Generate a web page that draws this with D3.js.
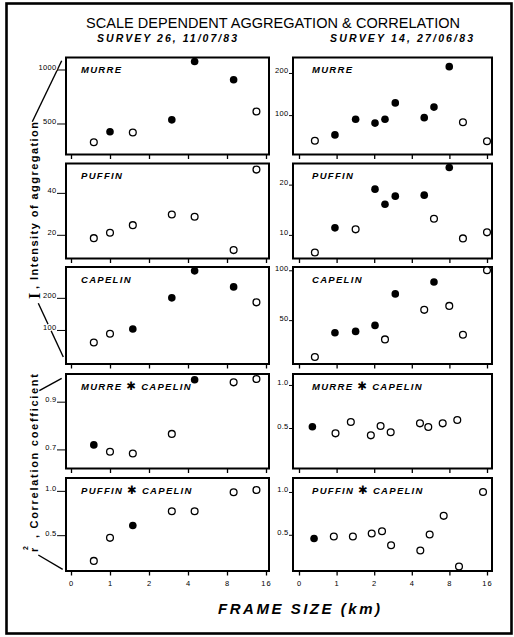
<!DOCTYPE html>
<html>
<head>
<meta charset="utf-8">
<script src="https://cdn.jsdelivr.net/npm/d3@7"></script>
<style>
  html, body { margin: 0; padding: 0; background: #fff; }
  svg { display: block; }
  text { font-family: "Liberation Sans", Arial, "DejaVu Sans", sans-serif; fill: #000; }
</style>
</head>
<body>
<svg id="chart" width="514" height="637"></svg>
<script>
// ---- Frame-size axis (log2 spacing; the first tick sits one doubling below 1 km) ----
const frameTicks = [0.5, 1, 2, 4, 8, 16];
const frameTickLabels = ["0", "1", "2", "4", "8", "16"];

// Frame sizes (km) at which each survey was analysed
const survey26Frames = [0.75, 1, 1.5, 3, 4.5, 9, 13.5];
const survey14Frames = [0.67, 0.97, 1.42, 2.03, 2.44, 2.95, 5.03, 6.02, 7.98, 10.27, 16];
const survey14FramesMurreCapelin = [0.64, 0.98, 1.30, 1.88, 2.25, 2.71, 4.65, 5.42, 7.07, 9.25];
const survey14FramesPuffinCapelin = [0.66, 0.95, 1.35, 1.91, 2.31, 2.73, 4.68, 5.56, 7.20, 9.55, 14.87];

// ---- Survey 26, 11/07/83 ----
const s26Murre = [327, 423, 417, 534, 1074, 905, 611];
const s26MurreSig = [0, 1, 0, 1, 1, 1, 0];
const s26Puffin = [18.4, 21.0, 24.6, 29.7, 28.6, 12.7, 51.1];
const s26PuffinSig = [0, 0, 0, 0, 0, 0, 0];
const s26Capelin = [61, 88, 103, 200, 284, 234, 186];
const s26CapelinSig = [0, 0, 1, 1, 1, 1, 0];
const s26MurreCapelin = [0.719, 0.690, 0.683, 0.765, 0.992, 0.981, 0.995];
const s26MurreCapelinSig = [1, 0, 0, 0, 1, 0, 0];
const s26PuffinCapelin = [0.21, 0.47, 0.61, 0.77, 0.77, 0.985, 1.01];
const s26PuffinCapelinSig = [0, 0, 1, 0, 0, 0, 0];

// ---- Survey 14, 27/06/83 ----
const s14Murre = [39, 53, 90, 81, 90, 129, 94, 119, 215, 83, 38];
const s14MurreSig = [0, 1, 1, 1, 1, 1, 1, 1, 1, 0, 0];
const s14Puffin = [6.5, 11.4, 11.1, 19.1, 16.1, 17.7, 17.9, 13.2, 23.4, 9.3, 10.5];
const s14PuffinSig = [0, 1, 0, 1, 1, 1, 1, 0, 1, 0, 0];
const s14Capelin = [13, 37.3, 38.7, 44.7, 30.7, 76.3, 60.3, 88.3, 64.3, 35.3, 100];
const s14CapelinSig = [0, 1, 1, 1, 0, 1, 0, 1, 0, 0, 0];
const s14MurreCapelin = [0.515, 0.438, 0.569, 0.415, 0.523, 0.450, 0.554, 0.512, 0.554, 0.593];
const s14MurreCapelinSig = [1, 0, 0, 0, 0, 0, 0, 0, 0, 0];
const s14PuffinCapelin = [0.457, 0.48, 0.48, 0.515, 0.541, 0.378, 0.316, 0.503, 0.721, 0.13, 1.0];
const s14PuffinCapelinSig = [1, 0, 0, 0, 0, 0, 0, 0, 0, 0, 0];

// ---- Vertical axis extents and ticks per panel ----
const s26Ranges = [[213, 1111], [8.7, 54], [-6, 296], [0.62, 1.016], [0.096, 1.145]];
const s26Ticks = [[500, 1000], [20, 40], [100, 200], [0.7, 0.9], [0.5, 1.0]];
const s26TickLabels = [["500", "1000"], ["20", "40"], ["100", "200"], ["0.7", "0.9"], ["0.5", "1.0"]];
const s14Ranges = [[6.5, 236.7], [5.3, 24.2], [6, 103.3], [0.03, 1.127], [0.077, 1.163]];
const s14Ticks = [[100, 200], [10, 20], [50, 100], [0.5, 1.0], [0.5, 1.0]];
const s14TickLabels = [["100", "200"], ["10", "20"], ["50", "100"], ["0.5", "1.0"], ["0.5", "1.0"]];

const panelNames = ["MURRE", "PUFFIN", "CAPELIN", "MURRE \u2731 CAPELIN", "PUFFIN \u2731 CAPELIN"];
const surveyTitles = ["SURVEY 26, 11/07/83", "SURVEY 14, 27/06/83"];

// ---- Build the panel table ----
const panels = [];
const s26Values = [s26Murre, s26Puffin, s26Capelin, s26MurreCapelin, s26PuffinCapelin];
const s26Sig = [s26MurreSig, s26PuffinSig, s26CapelinSig, s26MurreCapelinSig, s26PuffinCapelinSig];
const s14Values = [s14Murre, s14Puffin, s14Capelin, s14MurreCapelin, s14PuffinCapelin];
const s14Sig = [s14MurreSig, s14PuffinSig, s14CapelinSig, s14MurreCapelinSig, s14PuffinCapelinSig];
const s14FrameSets = [survey14Frames, survey14Frames, survey14Frames, survey14FramesMurreCapelin, survey14FramesPuffinCapelin];

for (let r = 0; r < 5; r++) {
  panels.push({ col: 0, row: r, name: panelNames[r], frames: survey26Frames,
    values: s26Values[r], sig: s26Sig[r], range: s26Ranges[r], ticks: s26Ticks[r], tickLabels: s26TickLabels[r] });
  panels.push({ col: 1, row: r, name: panelNames[r], frames: s14FrameSets[r],
    values: s14Values[r], sig: s14Sig[r], range: s14Ranges[r], ticks: s14Ticks[r], tickLabels: s14TickLabels[r] });
}

// ---- Layout ----
const colLeft = [66, 293];
const colRight = [269, 492];
const xRanges = [[71, 266], [299, 487]];
const yTickLen = [9, 4];
const rowTop = [57.5, 163.5, 267, 374, 478];
const rowBottom = [154.5, 258.5, 364, 468.5, 571];

const svg = d3.select("#chart");

// outer border of the figure
svg.append("rect")
  .attr("x", 6.5).attr("y", 3.5).attr("width", 505).attr("height", 630)
  .attr("fill", "none").attr("stroke", "#000").attr("stroke-width", 2.6);

// title
svg.append("text")
  .attr("x", 86).attr("y", 27.5)
  .attr("textLength", 374).attr("lengthAdjust", "spacing")
  .style("font-size", "14.5px")
  .text("SCALE DEPENDENT AGGREGATION & CORRELATION");

// survey headers
[[97, 140], [330, 143]].forEach(([x, w], i) => {
  svg.append("text")
    .attr("x", x).attr("y", 41.5)
    .attr("textLength", w).attr("lengthAdjust", "spacing")
    .style("font-size", "10.5px").style("font-weight", "bold").style("font-style", "italic")
    .text(surveyTitles[i]);
});

panels.forEach(p => {
  const x0 = colLeft[p.col], x1 = colRight[p.col];
  const y0 = rowTop[p.row], y1 = rowBottom[p.row];

  const x = d3.scaleLog().base(2).domain([0.5, 16]).range(xRanges[p.col]);
  const y = d3.scaleLinear().domain(p.range).range([y1, y0]);

  const g = svg.append("g");

  // x ticks hanging below each panel
  const xAxis = d3.axisBottom(x)
    .tickValues(frameTicks)
    .tickSize(4.5)
    .tickFormat((d, i) => p.row === 4 ? frameTickLabels[i] : "");
  const gx = g.append("g").attr("transform", `translate(0,${y1})`).call(xAxis);
  gx.select(".domain").remove();
  gx.selectAll(".tick line").attr("stroke", "#000").attr("stroke-width", 1.3);
  gx.selectAll(".tick text")
    .attr("y", 15).attr("dy", 0)
    .style("font-size", "7.5px").style("letter-spacing", "1px")
    .style("font-family", "'Liberation Sans', Arial, sans-serif");

  // y ticks: label sits on the tick line
  const yAxis = d3.axisLeft(y)
    .tickValues(p.ticks)
    .tickSize(yTickLen[p.col])
    .tickFormat((d, i) => p.tickLabels[i]);
  const gy = g.append("g").attr("transform", `translate(${x0},0)`).call(yAxis);
  gy.select(".domain").remove();
  gy.selectAll(".tick line").attr("stroke", "#000").attr("stroke-width", 1);
  gy.selectAll(".tick text")
    .attr("x", -yTickLen[p.col] - 0.5).attr("dy", 0).attr("y", 0)
    .style("font-size", "7.5px").style("letter-spacing", "0.3px")
    .style("font-family", "'Liberation Sans', Arial, sans-serif")
    .attr("stroke", "#fff").attr("stroke-width", 2.5).attr("paint-order", "stroke");

  // panel frame
  g.append("rect")
    .attr("x", x0).attr("y", y0).attr("width", x1 - x0).attr("height", y1 - y0)
    .attr("fill", "none").attr("stroke", "#000").attr("stroke-width", 2);

  // panel label; the product sign is set a little larger
  const label = g.append("text")
    .attr("x", x0 + (p.col === 0 ? 15 : 19)).attr("y", y0 + 15.5)
    .style("font-size", "9.5px").style("font-weight", "bold").style("font-style", "italic")
    .style("letter-spacing", "1.3px");
  p.name.split(/(\u2731)/).forEach(part => {
    const t = label.append("tspan").text(part);
    if (part === "\u2731") t.style("font-size", "11.5px").style("font-style", "normal")
      .style("font-family", "'DejaVu Sans', sans-serif");
  });

  // points: solid = filled, others open
  g.selectAll("circle.pt")
    .data(p.values.map((v, i) => ({ f: p.frames[i], v, s: p.sig[i] })))
    .join("circle")
    .attr("class", "pt")
    .attr("cx", d => x(d.f))
    .attr("cy", d => y(d.v))
    .attr("r", d => d.s ? 3.8 : 3.4)
    .attr("fill", d => d.s ? "#000" : "#fff")
    .attr("stroke", "#000")
    .attr("stroke-width", d => d.s ? 0 : 1.3);
});

// ---- Y-axis captions with bracket lines ----
const brackets = [
  [[32.3, 121.7], [61.7, 60.7]],
  [[38.3, 303.3], [63.3, 357]],
  [[39.3, 390.7], [61.7, 378.3]],
  [[38.3, 555], [62.7, 569.3]]
];
svg.insert("g", ":first-child")
  .selectAll("line")
  .data(brackets)
  .join("line")
  .attr("x1", d => d[0][0]).attr("y1", d => d[0][1])
  .attr("x2", d => d[1][0]).attr("y2", d => d[1][1])
  .attr("stroke", "#000").attr("stroke-width", 1.4);

// "I" symbol (serif capital) for intensity
svg.append("text")
  .attr("transform", "translate(39.5,299) rotate(-90)")
  .style("font-family", "'Liberation Serif', 'DejaVu Serif', serif")
  .style("font-size", "16px").style("font-weight", "bold")
  .text("I");
svg.append("text")
  .attr("transform", "translate(37.5,289) rotate(-90)")
  .attr("textLength", 167).attr("lengthAdjust", "spacing")
  .style("font-size", "11px").style("font-weight", "bold")
  .text(", Intensity of aggregation");

// r² for correlation
svg.append("text")
  .attr("transform", "translate(37.5,552) rotate(-90)")
  .style("font-size", "11px").style("font-weight", "bold")
  .text("r");
svg.append("text")
  .attr("transform", "translate(28,550) rotate(-90)")
  .style("font-size", "7px").style("font-weight", "bold")
  .text("2");
svg.append("text")
  .attr("transform", "translate(37.5,538) rotate(-90)")
  .attr("textLength", 164).attr("lengthAdjust", "spacing")
  .style("font-size", "11px").style("font-weight", "bold")
  .text(", Correlation coefficient");

// x-axis caption
svg.append("text")
  .attr("x", 218).attr("y", 613.5)
  .attr("textLength", 162).attr("lengthAdjust", "spacing")
  .style("font-size", "15px").style("font-weight", "bold").style("font-style", "italic")
  .text("FRAME SIZE (km)");
</script>
</body>
</html>
